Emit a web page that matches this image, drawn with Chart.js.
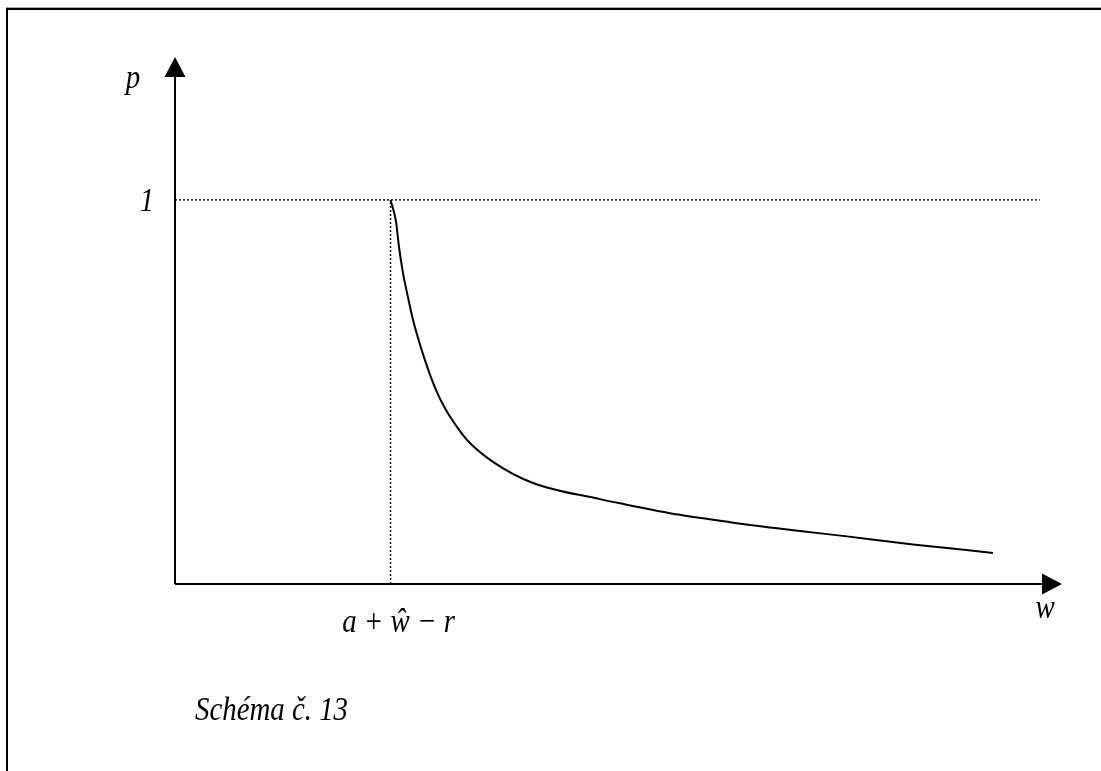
<!DOCTYPE html>
<html>
<head>
<meta charset="utf-8">
<title>Schéma č. 13</title>
<script src="https://cdn.jsdelivr.net/npm/chart.js@4"></script>
<style>
  html, body { margin: 0; padding: 0; background: #fff; }
  #wrap { width: 1101px; height: 771px; }
</style>
</head>
<body>
<div id="wrap"><canvas id="schema" width="1101" height="771"></canvas></div>
<script>
// krivka p(w), klesá od bodu a + ŵ − r
const wValues = [2.43, 2.492, 2.525, 2.570, 2.616, 2.683, 2.818, 2.943, 3.055, 3.179, 3.292, 3.585, 4.036, 4.791, 5.017, 5.693, 6.257, 7.046, 7.576, 8.320, 9.222];
const pValues = [1.000, 0.943, 0.878, 0.810, 0.758, 0.688, 0.583, 0.505, 0.453, 0.409, 0.375, 0.318, 0.263, 0.221, 0.210, 0.180, 0.161, 0.138, 0.124, 0.103, 0.081];

const markW = 2.43;      // poloha a + ŵ − r na ose w
const levelP = 1;        // úroveň p = 1
const wMax = 10, pMax = 1.372;
const dottedEnd = 9.75;

const axisLabels = { p: 'p', w: 'w', one: '1', mark: 'a + ŵ − r' };
const caption = 'Schéma č. 13';

const curve = wValues.map((w, i) => ({ x: w, y: pValues[i] }));

const serif = '"Liberation Serif", "Times New Roman", serif';
const captionWidth = 153;   // šířka popisku v px, podle ní se písmo zúží

function drawText(ctx, str, x, y, align, sx) {
  ctx.save();
  ctx.translate(x, y);
  ctx.scale(sx, 1);
  ctx.textAlign = align;
  ctx.fillText(str, 0, 0);
  ctx.restore();
}

// osy se šipkami, rámeček a popisky
const schemaPlugin = {
  id: 'schema',
  beforeDatasetsDraw(chart) {
    const { ctx, scales: { x, y } } = chart;
    const x0 = x.getPixelForValue(0), y0 = y.getPixelForValue(0);
    const xEnd = x.getPixelForValue(wMax), yTop = y.getPixelForValue(pMax);
    ctx.save();
    // rámeček
    ctx.strokeStyle = '#aaa';
    ctx.lineWidth = 1;
    ctx.beginPath(); ctx.moveTo(6, 7.5); ctx.lineTo(1101, 7.5); ctx.stroke();
    ctx.strokeStyle = '#000';
    ctx.lineWidth = 2;
    ctx.beginPath();
    ctx.moveTo(7, 771); ctx.lineTo(7, 9); ctx.lineTo(1101, 9);
    ctx.stroke();
    // osy
    ctx.beginPath();
    ctx.moveTo(x0, y0); ctx.lineTo(x0, yTop + 18);
    ctx.moveTo(x0, y0); ctx.lineTo(xEnd - 18, y0);
    ctx.stroke();
    ctx.fillStyle = '#000';
    ctx.beginPath();
    ctx.moveTo(x0, yTop); ctx.lineTo(x0 - 10.5, yTop + 20); ctx.lineTo(x0 + 10.5, yTop + 20);
    ctx.closePath(); ctx.fill();
    ctx.beginPath();
    ctx.moveTo(xEnd, y0); ctx.lineTo(xEnd - 20, y0 - 10.5); ctx.lineTo(xEnd - 20, y0 + 10.5);
    ctx.closePath(); ctx.fill();
    ctx.restore();
  },
  afterDatasetsDraw(chart) {
    const { ctx, scales: { x, y } } = chart;
    const x0 = x.getPixelForValue(0), y0 = y.getPixelForValue(0);
    ctx.save();
    ctx.fillStyle = '#000';
    ctx.textBaseline = 'alphabetic';
    ctx.font = 'italic 34px ' + serif;
    const sx = Math.min(1, captionWidth / ctx.measureText(caption).width);
    drawText(ctx, axisLabels.p, x0 - 42, y.getPixelForValue(pMax) + 31, 'center', sx);
    drawText(ctx, axisLabels.one, x0 - 28, y.getPixelForValue(levelP) + 11, 'center', sx);
    drawText(ctx, axisLabels.w, x.getPixelForValue(wMax) - 17, y0 + 34, 'center', sx);
    drawText(ctx, axisLabels.mark, x.getPixelForValue(markW) + 8, y0 + 48, 'center', sx);
    drawText(ctx, caption, 195, 720, 'left', sx);
    ctx.restore();
  }
};

new Chart(document.getElementById('schema'), {
  type: 'scatter',
  data: {
    datasets: [
      {
        label: 'p(w)',
        data: curve,
        showLine: true,
        borderColor: '#000',
        borderWidth: 2,
        pointRadius: 0,
        cubicInterpolationMode: 'monotone',
        fill: false
      },
      {
        label: 'p = 1',
        data: [{ x: 0, y: levelP }, { x: dottedEnd, y: levelP }],
        showLine: true,
        borderColor: '#000',
        borderWidth: 1.4,
        borderDash: [2, 2],
        pointRadius: 0
      },
      {
        label: 'a + ŵ − r',
        data: [{ x: markW, y: 0 }, { x: markW, y: levelP }],
        showLine: true,
        borderColor: '#000',
        borderWidth: 1.4,
        borderDash: [2, 2],
        pointRadius: 0
      }
    ]
  },
  options: {
    responsive: false,
    animation: false,
    devicePixelRatio: 1,
    layout: { padding: { left: 175, top: 57, right: 39, bottom: 187 } },
    plugins: { legend: { display: false }, tooltip: { enabled: false } },
    scales: {
      x: { type: 'linear', min: 0, max: wMax, display: false },
      y: { type: 'linear', min: 0, max: pMax, display: false }
    }
  },
  plugins: [schemaPlugin]
});
</script>
</body>
</html>
